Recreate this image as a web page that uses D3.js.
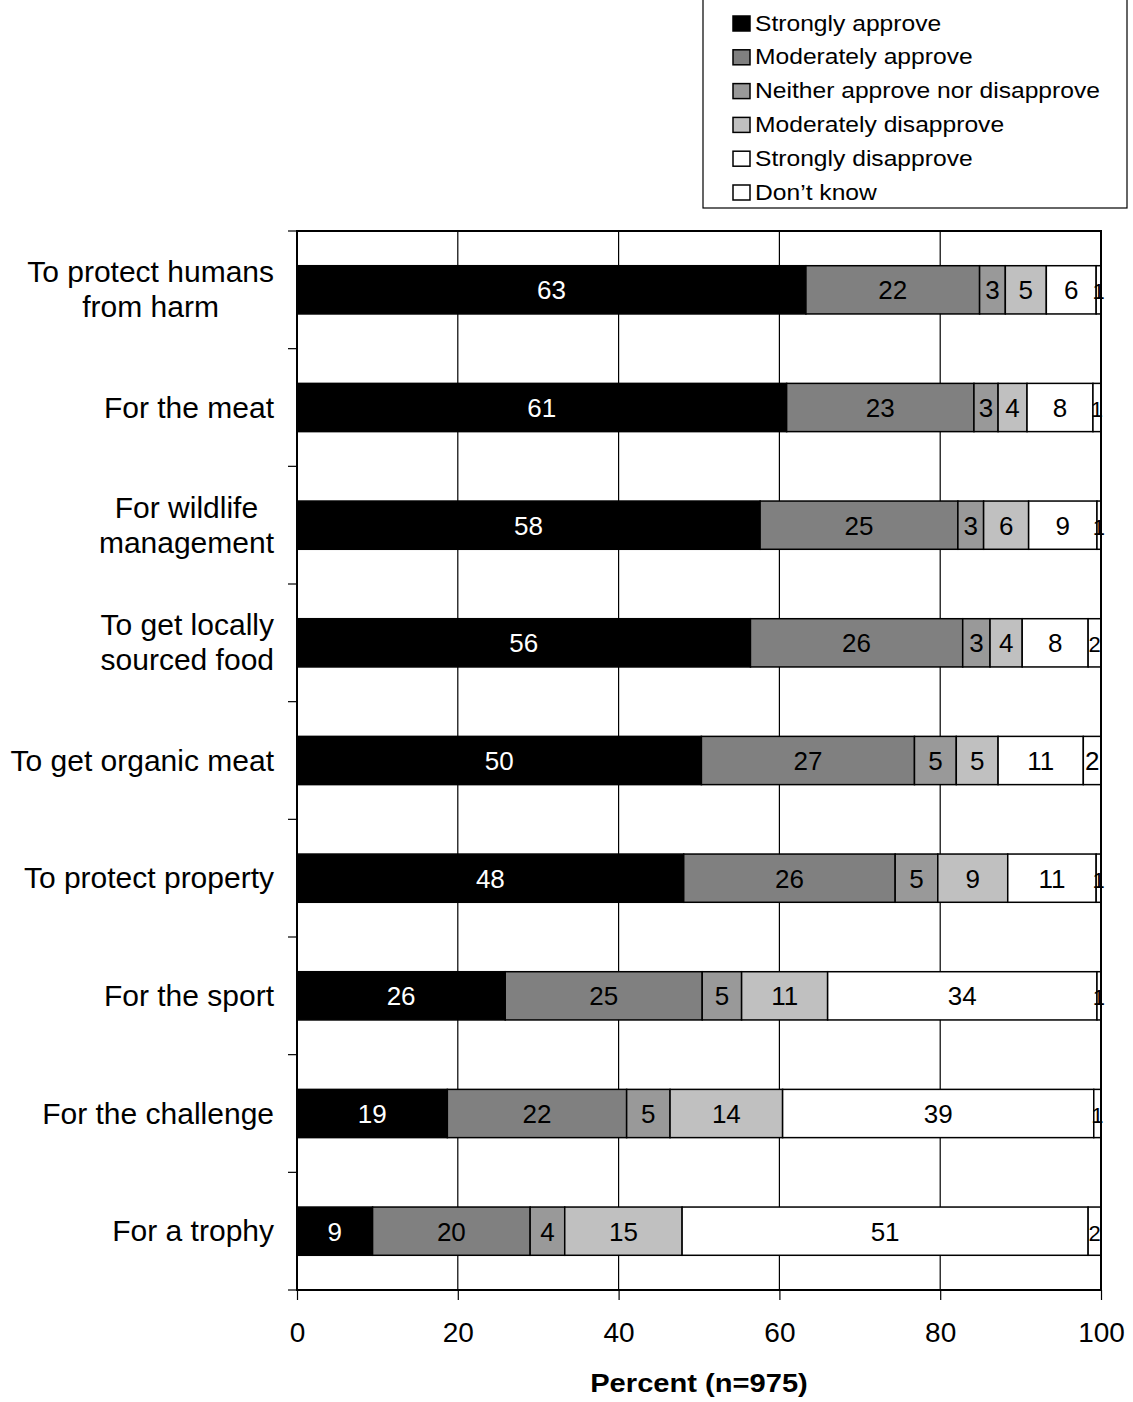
<!DOCTYPE html>
<html><head><meta charset="utf-8">
<script src="https://cdn.jsdelivr.net/npm/d3@7"></script>
<style>body{margin:0;background:#fff;} svg{display:block;font-family:Arial,"Liberation Sans",sans-serif;}</style>
</head><body>
<svg id="c" width="1133" height="1402"></svg>
<script>
const categories = [
  ["To protect humans","from harm"],
  ["For the meat"],
  ["For wildlife","management"],
  ["To get locally","sourced food"],
  ["To get organic meat"],
  ["To protect property"],
  ["For the sport"],
  ["For the challenge"],
  ["For a trophy"]
];
const seriesNames = ["Strongly approve","Moderately approve","Neither approve nor disapprove","Moderately disapprove","Strongly disapprove","Don\u2019t know"];
const stronglyApprove    = [63.3, 60.9, 57.6, 56.4, 50.3, 48.1, 25.9, 18.7, 9.4];
const moderatelyApprove  = [21.6, 23.3, 24.6, 26.4, 26.5, 26.3, 24.5, 22.3, 19.6];
const neither            = [3.2, 3.0, 3.2, 3.4, 5.2, 5.3, 4.9, 5.4, 4.3];
const moderatelyDisapp   = [5.1, 3.6, 5.6, 4.0, 5.2, 8.7, 10.7, 14.0, 14.6];
const stronglyDisapp     = [6.2, 8.2, 8.5, 8.2, 10.6, 11.0, 33.5, 38.7, 50.5];
const dontKnow           = [0.6, 1.0, 0.5, 1.6, 2.2, 0.6, 0.5, 0.9, 1.6];
const xTicks = [0,20,40,60,80,100];
const xTitle = "Percent (n=975)";

const series = [stronglyApprove, moderatelyApprove, neither, moderatelyDisapp, stronglyDisapp, dontKnow];
const colors = ["#000000","#808080","#999999","#c0c0c0","#ffffff","#ffffff"];
const textColors = ["#ffffff","#000000","#000000","#000000","#000000","#000000"];

const svg = d3.select("#c");
const L = 297, R = 1101, T = 231, B = 1290;
const x = d3.scaleLinear().domain([0,100]).range([L,R]);
const y = d3.scaleBand().domain(d3.range(categories.length)).range([T,B]).paddingInner(0.59).paddingOuter(0.295);

// gridlines
svg.append("g").selectAll("line").data(xTicks.slice(1,-1)).join("line")
  .attr("x1",d=>x(d)).attr("x2",d=>x(d)).attr("y1",T).attr("y2",B)
  .attr("stroke","#000").attr("stroke-width",1.2);

// stacked data
const rows = categories.map((c,i)=>{
  let acc=0;
  return series.map((s,k)=>{const v=s[i]; const seg={i,k,x0:acc,x1:acc+v,v}; acc+=v; return seg;});
});
const segs = rows.flat();
const gBars = svg.append("g");
gBars.selectAll("rect").data(segs).join("rect")
  .attr("x",d=>x(d.x0)).attr("width",d=>x(d.x1)-x(d.x0))
  .attr("y",d=>y(d.i)).attr("height",y.bandwidth())
  .attr("fill",d=>colors[d.k]).attr("stroke","#000").attr("stroke-width",1.5);
gBars.selectAll("text").data(segs).join("text")
  .attr("x",d=>(x(d.x0)+x(d.x1))/2).attr("y",d=>y(d.i)+y.bandwidth()/2+9.5)
  .attr("text-anchor","middle").attr("font-size",d=>d.v<1.9?22:26)
  .attr("fill",d=>textColors[d.k]).text(d=>Math.round(d.v));

// plot border
svg.append("rect").attr("x",L).attr("y",T).attr("width",R-L).attr("height",B-T)
  .attr("fill","none").attr("stroke","#000").attr("stroke-width",2);

// left axis ticks at band boundaries
const bounds = d3.range(categories.length+1).map(i=>T+i*(B-T)/categories.length);
svg.append("g").selectAll("line").data(bounds).join("line")
  .attr("x1",L-9).attr("x2",L).attr("y1",d=>d).attr("y2",d=>d).attr("stroke","#000").attr("stroke-width",1.2);

// bottom axis
const xAxis = d3.axisBottom(x).tickValues(xTicks).tickSize(10).tickPadding(22).tickFormat(d3.format("d"));
const gx = svg.append("g").attr("transform",`translate(0,${B})`).call(xAxis);
gx.select(".domain").remove();
gx.selectAll(".tick line").attr("stroke","#000").attr("stroke-width",1.2);
gx.selectAll(".tick text").attr("font-size",28).attr("font-family","Arial, 'Liberation Sans', sans-serif").attr("fill","#000");

svg.append("text").attr("transform",`translate(${(L+R)/2},1392) scale(1.12,1)`).attr("text-anchor","middle")
  .attr("font-size",26).attr("font-weight","bold").text(xTitle);

// category labels
const gCat = svg.append("g");
categories.forEach((lines,i)=>{
  const cy = y(i)+y.bandwidth()/2;
  const g = gCat.append("g");
  const lh = 35;
  const ts = lines.map((ln,j)=>g.append("text").attr("font-size",30).attr("text-anchor","middle")
    .attr("y", cy + 10 + (j-(lines.length-1)/2)*lh).text(ln));
  const maxW = d3.max(ts,t=>t.node().getComputedTextLength());
  ts.forEach(t=>t.attr("x",274-maxW/2));
});

// legend
const lg = svg.append("g");
lg.append("rect").attr("x",703).attr("y",-2).attr("width",424).attr("height",210)
  .attr("fill","#fff").attr("stroke","#000").attr("stroke-width",1.2);
seriesNames.forEach((n,k)=>{
  const cy = 23.5 + k*33.8;
  lg.append("rect").attr("x",733).attr("y",cy-7.5).attr("width",17).attr("height",15)
    .attr("fill",colors[k]).attr("stroke","#000").attr("stroke-width",1.5);
  lg.append("text").attr("transform",`translate(755,${cy+7})scale(1.12,1)`).attr("font-size",22).text(n);
});
</script>
</body></html>
